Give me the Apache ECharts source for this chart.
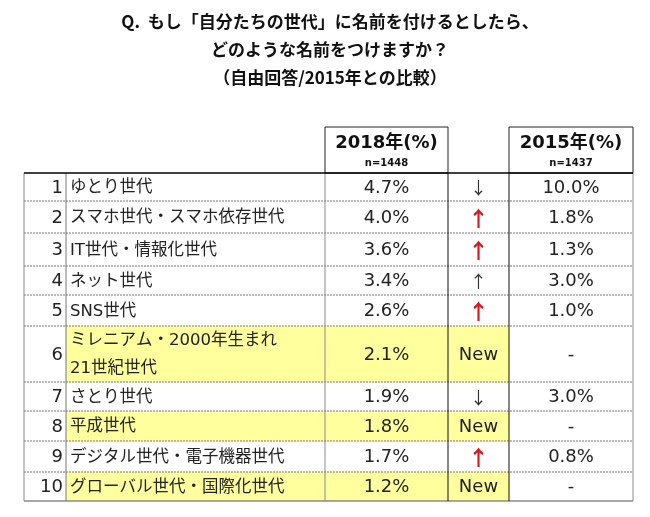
<!DOCTYPE html>
<html>
<head>
<meta charset="utf-8">
<script src="https://cdn.jsdelivr.net/npm/echarts@6/dist/echarts.min.js"></script>
<style>html,body{margin:0;padding:0;background:#fff;}#c{width:650px;height:517px;}</style>
</head>
<body>
<div id="c"></div>
<script>
// ---- data ----
const titleLines = ['Q.  もし「自分たちの世代」に名前を付けるとしたら、', 'どのような名前をつけますか？', '（自由回答/2015年との比較）'];
const ranks = [1, 2, 3, 4, 5, 6, 7, 8, 9, 10];
const names = ['ゆとり世代', 'スマホ世代・スマホ依存世代', 'IT世代・情報化世代', 'ネット世代', 'SNS世代',
  'ミレニアム・2000年生まれ\n21世紀世代', 'さとり世代', '平成世代', 'デジタル世代・電子機器世代', 'グローバル世代・国際化世代'];
const pct2018 = [4.7, 4.0, 3.6, 3.4, 2.6, 2.1, 1.9, 1.8, 1.7, 1.2];
const pct2015 = [10.0, 1.8, 1.3, 3.0, 1.0, null, 3.0, null, 0.8, null];
const changes = ['down', 'upSig', 'upSig', 'up', 'upSig', 'new', 'down', 'new', 'upSig', 'new'];
const yearHeaders = ['2018年(%)', '2015年(%)'];
const sampleSizes = ['n=1448', 'n=1437'];

// ---- layout (not data) ----
const colEdges = [0, 42, 301, 424, 485, 609];
const headerH = 46;
const rowHeights = [28, 32, 33, 29, 31, 56, 29, 30, 31, 29];
const FONT = '"Noto Sans CJK JP", "Noto Sans", sans-serif';
const NUMFONT = '"DejaVu Sans", "Noto Sans CJK JP", sans-serif';
const YELLOW = '#FFFF9E';
const RED = '#E3141C';
const GRAY = '#8a8a8a';

function rowTop(i) { let t = headerH; for (let k = 0; k < i; k++) t += rowHeights[k]; return t; }
const totalH = rowTop(rowHeights.length);

const chart = echarts.init(document.getElementById('c'), null, {renderer: 'canvas'});

function bgItem(params, api) {
  const i = api.value(0);
  if (changes[i] !== 'new') return null;
  const p0 = api.coord([colEdges[1], rowTop(i)]);
  const p1 = api.coord([colEdges[4], rowTop(i) + rowHeights[i]]);
  return {type: 'rect', shape: {x: p0[0], y: p0[1], width: p1[0] - p0[0], height: p1[1] - p0[1]}, style: {fill: YELLOW}};
}

function line(a, b, stroke, dash, w) {
  return {type: 'line', shape: {x1: a[0], y1: a[1], x2: b[0], y2: b[1]},
    style: {stroke: stroke, lineWidth: w || 1, lineDash: dash || null}};
}
function txt(x, y, text, opts) {
  return {type: 'text', x: x, y: y, style: Object.assign({text: text, font: '17px ' + FONT, fill: '#222',
    align: 'center', verticalAlign: 'middle'}, opts || {})};
}

function rowItem(params, api) {
  const i = api.value(0);
  const t = rowTop(i), b = t + rowHeights[i];
  const ym = api.coord([0, (t + b) / 2])[1];
  const X = colEdges.map(e => api.coord([e, t])[0]);
  const yT = api.coord([0, t])[1], yB = api.coord([0, b])[1];
  const ch = [];
  // texts
  ch.push(txt(X[1] - 3, ym + 1, String(ranks[i]), {align: 'right', font: '18px ' + NUMFONT}));
  ch.push(txt(X[1] + 4, ym + 1, names[i], {align: 'left', font: '16.5px ' + NUMFONT, lineHeight: 28}));
  ch.push(txt((X[2] + X[3]) / 2, ym + 1, pct2018[i].toFixed(1) + '%', {font: '18px ' + NUMFONT}));
  const c = changes[i];
  if (c === 'new') ch.push(txt((X[3] + X[4]) / 2, ym + 1, 'New', {font: '18px ' + NUMFONT}));
  else if (c === 'upSig') ch.push(txt((X[3] + X[4]) / 2, ym + 1, '↑', {font: 'bold 21px ' + FONT, fill: RED}));
  else if (c === 'up') ch.push(txt((X[3] + X[4]) / 2, ym + 1, '↑', {font: '17px ' + FONT, fill: '#333'}));
  else ch.push(txt((X[3] + X[4]) / 2, ym + 1, '↓', {font: '17px ' + FONT, fill: '#333'}));
  ch.push(txt((X[4] + X[5]) / 2, ym + 1, pct2015[i] == null ? '-' : pct2015[i].toFixed(1) + '%', {font: '18px ' + NUMFONT}));
  // bottom border
  if (i < rowHeights.length - 1) ch.push(line([X[0], yB], [X[5], yB], '#777', [2, 1]));
  else ch.push(line([X[0], yB], [X[5], yB], GRAY, null, 1.5));
  // vertical borders
  const vcol = [GRAY, '#777', GRAY, '#111', '#111', GRAY];
  X.forEach((x, k) => ch.push(line([x, yT], [x, yB], vcol[k])));
  return {type: 'group', children: ch};
}

function headerItem(params, api) {
  const yTop = api.coord([0, 0])[1], yBot = api.coord([0, headerH])[1];
  const X = colEdges.map(e => api.coord([e, 0])[0]);
  const ch = [];
  [[2, 3], [4, 5]].forEach((pair, k) => {
    const x0 = X[pair[0]], x1 = X[pair[1]];
    ch.push({type: 'rect', shape: {x: x0, y: yTop, width: x1 - x0, height: yBot - yTop},
      style: {fill: '#fff', stroke: '#222', lineWidth: 1}});
    ch.push(txt((x0 + x1) / 2, yTop + 16, yearHeaders[k], {font: 'bold 18px ' + NUMFONT, fill: '#111'}));
    ch.push(txt((x0 + x1) / 2, yTop + 36, sampleSizes[k], {font: 'bold 10px ' + NUMFONT, fill: '#111'}));
  });
  ch.push(line([X[0], yBot], [X[5], yBot], '#000', null, 1.5));
  return {type: 'group', children: ch};
}

chart.setOption({
  animation: false,
  title: {
    text: titleLines.join('\n'),
    left: 325, top: 3,
    textAlign: 'center',
    textStyle: {fontFamily: FONT, fontWeight: 'bold', fontSize: 17, lineHeight: 28, color: '#111'}
  },
  grid: {left: 24, right: 17, top: 127, bottom: 16},
  xAxis: {type: 'value', min: 0, max: colEdges[colEdges.length - 1], show: false},
  yAxis: {type: 'value', min: 0, max: totalH, inverse: true, show: false},
  series: [
    {type: 'custom', z: 1, renderItem: bgItem, data: ranks.map((r, i) => [i]), silent: true},
    {type: 'custom', z: 2, renderItem: rowItem, data: ranks.map((r, i) => [i]), silent: true},
    {type: 'custom', z: 3, renderItem: headerItem, data: [[0]], silent: true}
  ]
});
</script>
</body>
</html>
